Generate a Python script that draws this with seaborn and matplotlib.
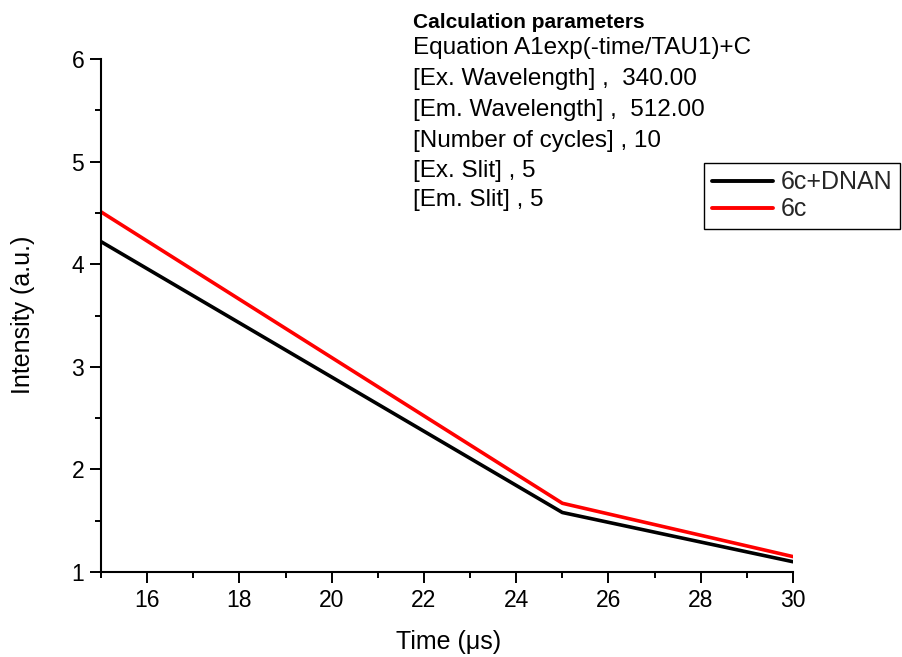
import matplotlib
matplotlib.use("Agg")
import matplotlib.pyplot as plt
import seaborn as sns
import pandas as pd
from matplotlib.ticker import MultipleLocator
from matplotlib.lines import Line2D

time_us = [15, 25, 30]
dnan_6c = [4.22, 1.58, 1.10]
only_6c = [4.51, 1.67, 1.15]
series_names = ["6c+DNAN", "6c"]
x_ticks = [16, 18, 20, 22, 24, 26, 28, 30]
y_ticks = [1, 2, 3, 4, 5, 6]
info_title = "Calculation parameters"
info_lines = ["Equation A1exp(-time/TAU1)+C",
              "[Ex. Wavelength] ,  340.00",
              "[Em. Wavelength] ,  512.00",
              "[Number of cycles] , 10",
              "[Ex. Slit] , 5",
              "[Em. Slit] , 5"]

df = pd.DataFrame({
    "time": time_us * 2,
    "intensity": dnan_6c + only_6c,
    "series": [series_names[0]] * len(time_us) + [series_names[1]] * len(time_us),
})

sns.set_theme(style="ticks")
plt.rcParams["font.family"] = ["Liberation Sans", "DejaVu Sans"]

W, H = 902, 657
fig = plt.figure(figsize=(W / 100, H / 100), dpi=100)
ax = fig.add_axes([101 / W, 1 - 572 / H, (793 - 101) / W, (572 - 59) / H])

sns.lineplot(data=df, x="time", y="intensity", hue="series",
             palette={series_names[0]: "black", series_names[1]: "red"},
             linewidth=2.6, ax=ax, legend=False, sort=False)

ax.set_xlim(15, 30)
ax.set_ylim(1, 6)
ax.set_xticks(x_ticks)
ax.set_yticks(y_ticks)
ax.xaxis.set_minor_locator(MultipleLocator(1))
ax.yaxis.set_minor_locator(MultipleLocator(0.5))
ax.tick_params(axis="both", which="major", direction="out", length=8, width=1.4,
               labelsize=16.5, color="black", labelcolor="black", pad=4)
ax.tick_params(axis="both", which="minor", direction="out", length=4.5, width=1.4, color="black")
for s in ["top", "right"]:
    ax.spines[s].set_visible(False)
for s in ["left", "bottom"]:
    ax.spines[s].set_color("black")
    ax.spines[s].set_linewidth(1.5)

ax.set_xlabel("Time (\u03bcs)", fontsize=18, color="black")
ax.set_ylabel("Intensity (a.u.)", fontsize=18, color="black")
ax.xaxis.set_label_coords(449 / W, 1 - 630 / H, transform=fig.transFigure)
ax.yaxis.set_label_coords(35 / W, 1 - 315 / H, transform=fig.transFigure)

# info text
fig.text(413 / W, 1 - 22 / H, info_title, fontsize=15, fontweight="bold",
         ha="left", va="center", color="black")
line_y = [48, 79, 110, 141, 171, 200]
for yy, line in zip(line_y, info_lines):
    fig.text(413 / W, 1 - yy / H, line, fontsize=17.5,
             ha="left", va="center", color="black")

handles = [Line2D([], [], color="black", lw=2.8), Line2D([], [], color="red", lw=2.8)]
leg = fig.legend(handles, series_names, loc="upper left",
                 bbox_to_anchor=(704 / W, 1 - 163 / H), fontsize=18,
                 frameon=True, fancybox=False, shadow=False, handlelength=2.45,
                 handletextpad=0.32, borderpad=0.3, labelspacing=0.12,
                 borderaxespad=0)
leg.get_frame().set_edgecolor("black")
leg.get_frame().set_linewidth(1.0)
leg.get_frame().set_alpha(1)

fig.savefig("out.png", dpi=100)
